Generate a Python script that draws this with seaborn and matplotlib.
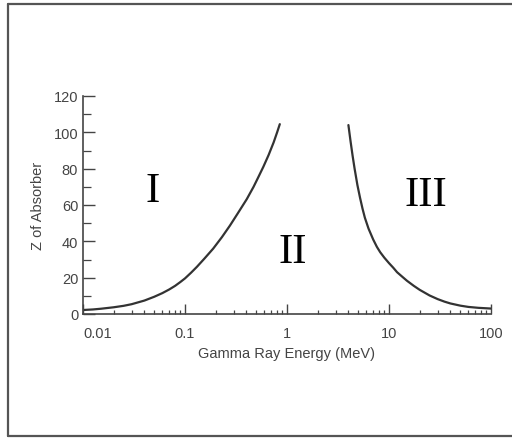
import matplotlib
matplotlib.use("Agg")
import matplotlib.pyplot as plt
import matplotlib.ticker as mticker
from matplotlib.lines import Line2D
import seaborn as sns
import pandas as pd

# Boundary between photoelectric / Compton (left) and Compton / pair production (right)
left_energy = [0.01, 0.0125, 0.015, 0.02, 0.025, 0.03, 0.04, 0.05, 0.06, 0.07, 0.08, 0.09,
               0.1, 0.115, 0.131, 0.155, 0.189, 0.23, 0.276, 0.33, 0.403, 0.47, 0.52,
               0.586, 0.66, 0.74, 0.8, 0.85]
left_z = [2.2, 2.5, 2.9, 3.7, 4.5, 5.4, 7.4, 9.5, 11.5, 13.5, 15.5, 17.6,
          19.6, 22.8, 26, 30.5, 36, 42.3, 48.7, 55.5, 63.2, 70, 75,
          81, 87.5, 94.5, 100, 104.5]
right_energy = [4.0, 4.2, 4.4, 4.6, 4.9, 5.2, 5.5, 5.8, 6.3, 7.0, 7.6, 8.2, 9.0, 10, 11,
                12, 13.5, 15, 17.5, 20, 25, 30, 35, 40, 50, 60, 75, 100]
right_z = [104, 95, 87, 80, 71, 64, 58, 53, 47, 41, 37, 34, 31, 28, 25.5,
           23, 20.5, 18.3, 15.5, 13.3, 10.2, 8.2, 6.8, 5.8, 4.6, 3.9, 3.4, 3.0]

x_ticks = [0.01, 0.1, 1, 10, 100]
x_tick_labels = ["0.01", "0.1", "1", "10", "100"]
y_ticks = [0, 20, 40, 60, 80, 100, 120]
region_labels = ["I", "II", "III"]
region_pos = [(0.048, 68), (1.14, 34), (23, 65.5)]

sns.set_style("white")
plt.rcParams["font.family"] = ["Liberation Sans", "DejaVu Sans"]

fig = plt.figure(figsize=(5.12, 4.39), dpi=100)
ax = fig.add_axes([83 / 512, 1 - 315 / 439, (491 - 83) / 512, (315 - 97) / 439])

line_color = "#333333"
left_df = pd.DataFrame({"E": left_energy, "Z": left_z})
right_df = pd.DataFrame({"E": right_energy, "Z": right_z})
sns.lineplot(data=left_df, x="E", y="Z", ax=ax, color=line_color, lw=1.6)
sns.lineplot(data=right_df, x="E", y="Z", ax=ax, color=line_color, lw=1.6)

ax.set_xscale("log")
ax.set_xlim(0.01, 100)
ax.set_ylim(0, 120)

ax.set_xticks(x_ticks)
ax.set_xticklabels(x_tick_labels)
ax.xaxis.set_minor_locator(mticker.LogLocator(base=10, subs=range(2, 10)))
ax.xaxis.set_minor_formatter(mticker.NullFormatter())
ax.set_yticks(y_ticks)
ax.yaxis.set_minor_locator(mticker.MultipleLocator(10))

tick_col = "#444444"
ax.tick_params(axis="x", which="major", direction="in", length=7, width=1.0,
               color=tick_col, labelsize=10.5, labelcolor=tick_col, pad=9, bottom=True)
ax.tick_params(axis="x", which="minor", direction="in", length=3, width=0.9,
               color=tick_col, bottom=True)
ax.tick_params(axis="y", which="major", direction="in", length=8.5, width=1.0,
               color=tick_col, labelsize=10.5, labelcolor=tick_col, pad=3.5, left=True)
ax.tick_params(axis="y", which="minor", direction="in", length=5.5, width=0.9,
               color=tick_col, left=True)
ax.get_xticklabels()[0].set_horizontalalignment("left")

for s in ["top", "right"]:
    ax.spines[s].set_visible(False)
for s in ["left", "bottom"]:
    ax.spines[s].set_color(tick_col)
    ax.spines[s].set_linewidth(1.2)

ax.set_xlabel("Gamma Ray Energy (MeV)", fontsize=10.5, color=tick_col, labelpad=4)
ax.set_ylabel("Z of Absorber", fontsize=10.5, color=tick_col, labelpad=6)

for lab, (xx, yy) in zip(region_labels, region_pos):
    ax.text(xx, yy, lab, ha="center", va="center", fontsize=31,
            family=["Liberation Serif", "DejaVu Serif"], color="black")

# outer frame (left, top, bottom; right edge lies beyond the image)
W, H = 512, 439
frame_col = "#555555"
fig.add_artist(Line2D([8 / W, 8 / W], [1 - 5 / H, 1 - 437 / H], color=frame_col, lw=1.6,
                      transform=fig.transFigure))
fig.add_artist(Line2D([8 / W, 1.01], [1 - 5 / H, 1 - 5 / H], color=frame_col, lw=1.6,
                      transform=fig.transFigure))
fig.add_artist(Line2D([8 / W, 1.01], [1 - 437 / H, 1 - 437 / H], color=frame_col, lw=1.6,
                      transform=fig.transFigure))

fig.savefig("out.png", dpi=100)
